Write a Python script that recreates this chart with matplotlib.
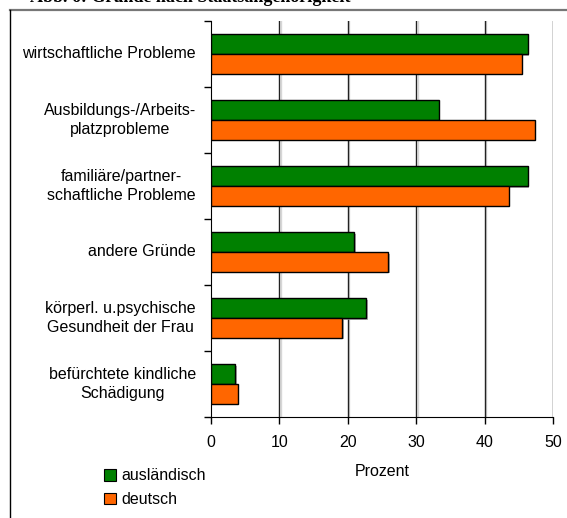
import matplotlib
matplotlib.use('Agg')
import numpy as np
import matplotlib.pyplot as plt
import matplotlib.patheffects as pe
from matplotlib.lines import Line2D
from matplotlib.patches import Patch

plt.rcParams['font.family'] = ['Liberation Sans', 'DejaVu Sans']

categories = ['wirtschaftliche Probleme',
              'Ausbildungs-/Arbeits-\nplatzprobleme',
              'familiäre/partner-\nschaftliche Probleme',
              'andere Gründe',
              'körperl. u.psychische\nGesundheit der Frau',
              'befürchtete kindliche\nSchädigung']
auslaendisch = [46.3, 33.3, 46.3, 20.9, 22.7, 3.5]
deutsch = [45.4, 47.3, 43.5, 25.9, 19.2, 3.9]
xticks = [0, 10, 20, 30, 40, 50]

green = '#008000'
orange = '#ff6600'
fs = 11.5

fig = plt.figure(figsize=(5.67, 5.18), dpi=100)
ax = fig.add_axes([211/567, 1-417/518, 342/567, 396/518])

n = len(categories)
y = np.arange(n)
h = 0.3
shadow = [pe.SimplePatchShadow(offset=(1.2, -1.2), shadow_rgbFace='#999999', alpha=0.8), pe.Normal()]
ax.barh(y - h/2, auslaendisch, height=h, color=green, edgecolor='black',
        linewidth=1, zorder=3, path_effects=shadow)
ax.barh(y + h/2, deutsch, height=h, color=orange, edgecolor='black',
        linewidth=1, zorder=3, path_effects=shadow)

ax.set_ylim(n - 0.5, -0.5)
ax.set_xlim(0, 50)
ax.set_xticks(xticks)
ax.set_xticklabels([str(t) for t in xticks], fontsize=fs)
ax.tick_params(axis='x', length=5, width=1, pad=8, color='black')

# category ticks sit on the boundaries, labels in between
ax.set_yticks(np.arange(n + 1) - 0.5)
ax.set_yticklabels([])
ax.tick_params(axis='y', length=5, width=1)
for i, c in enumerate(categories):
    ax.annotate(c, xy=(0, i), xycoords=('axes fraction', 'data'),
                xytext=(-15, 0), textcoords='offset pixels',
                ha='right', va='center', multialignment='center',
                fontsize=fs, linespacing=1.3)

for t in xticks[1:]:
    ax.axvline(t, color='#222222', linewidth=1, zorder=1,
               path_effects=[pe.SimpleLineShadow(offset=(1, 0), shadow_color='#bbbbbb', alpha=0.6), pe.Normal()])

ax.spines['top'].set_visible(False)
ax.spines['right'].set_visible(False)
ax.spines['left'].set_color('black')
ax.spines['bottom'].set_color('black')

ax.set_xlabel('Prozent', fontsize=fs, labelpad=10)

handles = [Patch(facecolor=green, edgecolor='black', linewidth=0.8),
           Patch(facecolor=orange, edgecolor='black', linewidth=0.8)]
fig.legend(handles, ['ausländisch', 'deutsch'], loc='upper left',
           bbox_to_anchor=(98/567, 1-462/518), frameon=False, fontsize=fs,
           handlelength=0.75, handleheight=0.75, handletextpad=0.3,
           labelspacing=0.55, borderaxespad=0)

# outer frame, running off the right and bottom edges
fig.add_artist(Line2D([10/567, 1], [1-10/518, 1-10/518], color='#777777', linewidth=1.6))
fig.add_artist(Line2D([10/567, 10/567], [0, 1-10/518], color='black', linewidth=1))

fig.text(30/567, 1-1.5/518, 'Abb. 6: Gründe nach Staatsangehörigkeit',
         fontsize=13, fontweight='bold', family=['Liberation Serif', 'DejaVu Serif'],
         ha='left', va='baseline')

fig.savefig('out.png', dpi=100)
